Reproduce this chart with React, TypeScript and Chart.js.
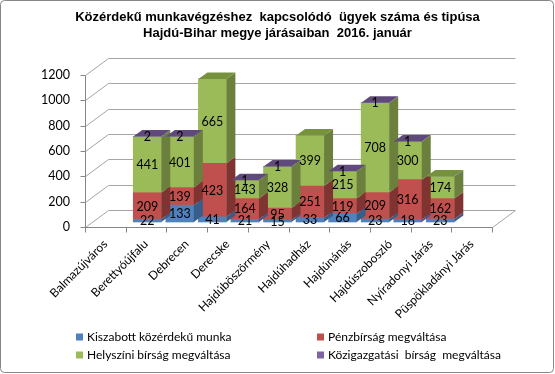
import React, { useEffect, useRef } from "react";
import { Chart, registerables } from "chart.js";

Chart.register(...registerables);

const titleLines = [
  "Közérdekű munkavégzéshez  kapcsolódó  ügyek száma és tipúsa",
  "Hajdú-Bihar megye járásaiban  2016. január",
];
const categories = [
  "Balmazújváros",
  "Berettyóújfalu",
  "Debrecen",
  "Derecske",
  "Hajdúböszörmény",
  "Hajdúhadház",
  "Hajdúnánás",
  "Hajdúszoboszló",
  "Nyíradonyi Járás",
  "Püspökladányi Járás",
];
const seriesNames = [
  "Kiszabott közérdekű munka",
  "Pénzbírság megváltása",
  "Helyszíni bírság megváltása",
  "Közigazgatási  bírság  megváltása",
];
const kiszabott = [22, 133, 41, 21, 15, 33, 66, 23, 18, 23];
const penzbirsag = [209, 139, 423, 164, 95, 251, 119, 209, 316, 162];
const helyszini = [441, 401, 665, 143, 328, 399, 215, 708, 300, 174];
const kozigazgatasi = [2, 2, 0, 1, 1, 0, 1, 1, 1, 0];
const yTicks = [0, 200, 400, 600, 800, 1000, 1200];

const frontColors = ["#4F81BD", "#C0504D", "#9BBB59", "#8064A2"];
const sideColors = ["#385D8A", "#7F3432", "#6A803C", "#5C4776"];
const topColors = ["#3F6897", "#8E3B38", "#76923C", "#604A7B"];

const FONT = "Lato, 'Open Sans', Arial, sans-serif";

export default function App() {
  const ref = useRef<HTMLCanvasElement>(null);

  useEffect(() => {
    const canvas = ref.current;
    if (!canvas) return;
    const series = [kiszabott, penzbirsag, helyszini, kozigazgatasi];
    const D = { x: 23, y: -17 }; // depth of floor / walls
    const B = { x: 9, y: -6.5 }; // depth of bars
    const catShift = 6.6 / 40.7; // bars sit a little back in depth

    const bgPlugin = {
      id: "bg",
      beforeDraw(chart: any) {
        const ctx = chart.ctx;
        ctx.save();
        ctx.fillStyle = "#ffffff";
        ctx.fillRect(0, 0, chart.width, chart.height);
        ctx.strokeStyle = "#868686";
        ctx.lineWidth = 1;
        ctx.beginPath();
        (ctx as any).roundRect(0.5, 0.5, chart.width - 2, chart.height - 2, 4);
        ctx.stroke();
        ctx.restore();
      },
    };

    const wallsPlugin = {
      id: "walls",
      beforeDatasetsDraw(chart: any) {
        const ctx = chart.ctx;
        const ys = chart.scales.y;
        const xs = chart.scales.x;
        const { left, right } = chart.chartArea;
        const y0 = Math.round(ys.getPixelForValue(0)) + 0.5;
        const yTop = Math.round(ys.getPixelForValue(yTicks[yTicks.length - 1])) + 0.5;
        const L = Math.round(left) + 0.5;
        const R = Math.round(right) + 0.5;
        ctx.save();
        ctx.lineWidth = 1;
        ctx.strokeStyle = "#A6A6A6";
        ctx.beginPath();
        yTicks.forEach((v) => {
          const py = Math.round(ys.getPixelForValue(v)) + 0.5;
          ctx.moveTo(L + D.x, py + D.y);
          ctx.lineTo(R + D.x, py + D.y);
          ctx.moveTo(L, py);
          ctx.lineTo(L + D.x, py + D.y);
        });
        ctx.moveTo(R, y0);
        ctx.lineTo(R + D.x, y0 + D.y);
        ctx.stroke();

        ctx.strokeStyle = "#868686";
        ctx.beginPath();
        ctx.moveTo(L, yTop);
        ctx.lineTo(L, y0);
        ctx.lineTo(R, y0);
        yTicks.forEach((v) => {
          const py = Math.round(ys.getPixelForValue(v)) + 0.5;
          ctx.moveTo(L - 5, py);
          ctx.lineTo(L, py);
        });
        const step = xs.getPixelForValue(1) - xs.getPixelForValue(0);
        for (let i = 0; i <= categories.length; i++) {
          const px =
            i < categories.length ? Math.round(xs.getPixelForValue(i) - step / 2) + 0.5 : R;
          ctx.moveTo(px, y0);
          ctx.lineTo(px, y0 + 5);
        }
        ctx.stroke();
        ctx.restore();
      },
      afterDatasetsDraw(chart: any) {
        const ctx = chart.ctx;
        const nCat = categories.length;
        const topDs: number[] = [];
        for (let i = 0; i < nCat; i++) {
          let t = -1;
          series.forEach((s, d) => {
            if (s[i] > 0) t = d;
          });
          topDs.push(t);
        }
        ctx.save();
        series.forEach((s, d) => {
          const meta = chart.getDatasetMeta(d);
          meta.data.forEach((el: any, i: number) => {
            if (!(s[i] > 0)) return;
            const { x, y, base, width } = el.getProps(["x", "y", "base", "width"], true);
            const l = x - width / 2;
            const r = x + width / 2;
            ctx.fillStyle = sideColors[d];
            ctx.beginPath();
            ctx.moveTo(r, y);
            ctx.lineTo(r + B.x, y + B.y);
            ctx.lineTo(r + B.x, base + B.y);
            ctx.lineTo(r, base);
            ctx.closePath();
            ctx.fill();
            if (topDs[i] === d) {
              ctx.fillStyle = topColors[d];
              ctx.beginPath();
              ctx.moveTo(l, y);
              ctx.lineTo(l + B.x, y + B.y);
              ctx.lineTo(r + B.x, y + B.y);
              ctx.lineTo(r, y);
              ctx.closePath();
              ctx.fill();
            }
          });
        });
        // data labels
        ctx.fillStyle = "#000000";
        ctx.font = `12.5px ${FONT}`;
        ctx.textAlign = "center";
        ctx.textBaseline = "middle";
        series.forEach((s, d) => {
          const meta = chart.getDatasetMeta(d);
          meta.data.forEach((el: any, i: number) => {
            if (!(s[i] > 0)) return;
            const { x, y, base } = el.getProps(["x", "y", "base"], true);
            ctx.fillText(String(s[i]), x, (y + base) / 2 + 0.5);
          });
        });
        ctx.restore();
      },
    };

    const legendPlugin = {
      id: "legendGrid",
      afterDraw(chart: any) {
        const ctx = chart.ctx;
        const cols = [76, 317];
        const rows = [337, 355];
        ctx.save();
        ctx.font = `12px ${FONT}`;
        ctx.textBaseline = "middle";
        ctx.textAlign = "left";
        chart.data.datasets.forEach((ds: any, d: number) => {
          const cx = cols[d % 2];
          const cy = rows[Math.floor(d / 2)];
          ctx.fillStyle = ds.backgroundColor;
          ctx.fillRect(cx, cy - 3.5, 7, 7);
          ctx.fillStyle = "#000000";
          ctx.fillText(ds.label, cx + 11, cy);
        });
        ctx.restore();
      },
    };

    const chart = new Chart(canvas, {
      type: "bar",
      data: {
        labels: categories,
        datasets: series.map((s, d) => ({
          label: seriesNames[d],
          data: s.map((v, i) => ({ x: i, y: v })),
          backgroundColor: frontColors[d],
          borderWidth: 0,
          xAxisID: "xb",
          yAxisID: "yb",
          barThickness: 28,
          clip: false as any,
        })),
      },
      options: {
        responsive: false,
        animation: false,
        devicePixelRatio: 1,
        layout: { padding: { left: 8, right: 8, top: 0, bottom: 8 } },
        plugins: {
          legend: { display: false },
          tooltip: { enabled: false },
          title: {
            display: true,
            text: titleLines,
            color: "#000000",
            font: { family: "Arial, 'Liberation Sans', sans-serif", size: 13, weight: "bold", lineHeight: "16px" as any },
            padding: { top: 9, bottom: 34 },
          },
        },
        scales: {
          x: {
            type: "category",
            position: "bottom",
            grid: { display: false, drawTicks: false },
            border: { display: false },
            ticks: {
              minRotation: 45,
              maxRotation: 45,
              autoSkip: false,
              padding: 10,
              color: "#000000",
              font: { family: FONT, size: 12 },
            },
            afterFit: (s: any) => {
              s.height = 139;
            },
          },
          y: {
            type: "linear",
            position: "left",
            min: 0,
            max: 1200,
            grid: { display: false, drawTicks: false },
            border: { display: false },
            ticks: {
              stepSize: 200,
              padding: 15,
              color: "#000000",
              font: { family: FONT, size: 12.5 },
              callback: (v: any) => String(v),
            },
            afterFit: (s: any) => {
              s.width = 77;
            },
          },
          xb: {
            type: "linear",
            display: false,
            stacked: true,
            min: -0.5 - catShift,
            max: categories.length - 0.5 - catShift,
          },
          yb: {
            type: "linear",
            position: "right",
            display: true,
            stacked: true,
            min: -39.5,
            max: 1160.5,
            grid: { display: false, drawTicks: false },
            border: { display: false },
            ticks: { display: false },
            afterFit: (s: any) => {
              s.width = 55;
            },
          },
        },
      } as any,
      plugins: [bgPlugin, wallsPlugin, legendPlugin],
    });
    return () => chart.destroy();
  }, []);

  return (
    <div style={{ position: "fixed", left: 0, top: 0, width: 555, height: 374, background: "#fff" }}>
      <canvas ref={ref} width={555} height={374} style={{ display: "block" }} />
    </div>
  );
}
